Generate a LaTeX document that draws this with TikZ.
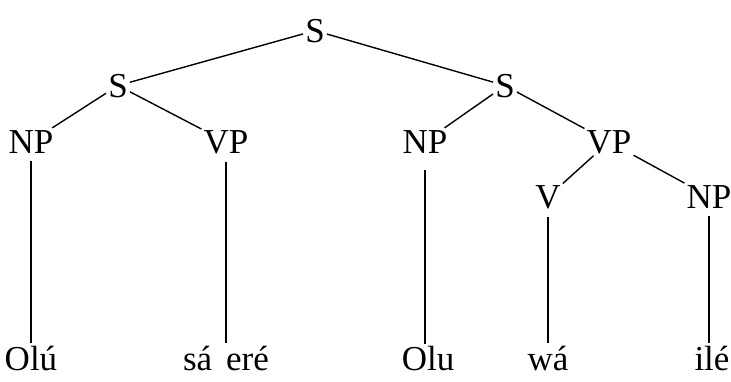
\documentclass[tikz,border=0pt]{standalone}
\usepackage{fontspec}
\setmainfont{Liberation Serif}
\begin{document}
\begin{tikzpicture}[x=1pt,y=-1pt,
  lab/.style={font=\fontsize{35}{40}\selectfont, inner sep=2pt, anchor=base},
  edge/.style={line width=1.4pt}]
\useasboundingbox (0,0) rectangle (731,381);
% labels
\node[lab] (s0)  at (315,42)  {S};
\node[lab] (s1)  at (118,97)  {S};
\node[lab] (s2)  at (505,97)  {S};
\node[lab] (np1) at (31,153)  {NP};
\node[lab] (vp1) at (226,153) {VP};
\node[lab] (np2) at (425,153) {NP};
\node[lab] (vp2) at (609,153) {VP};
\node[lab] (v)   at (548,208) {V};
\node[lab] (np3) at (709,208) {NP};
% words
\node[lab] (w1) at (31,370)  {Olú};
\node[lab] (w2) at (226,370) {sá\hspace{0.4em}eré};
\node[lab] (w3) at (428,370) {Olu};
\node[lab] (w4) at (548,370) {wá};
\node[lab] (w5) at (712,370) {ilé};
% edges
\draw[edge] (s0) -- (s1);
\draw[edge] (s0) -- (s2);
\draw[edge] (s1) -- (np1);
\draw[edge] (s1) -- (vp1);
\draw[edge] (s2) -- (np2);
\draw[edge] (s2) -- (vp2);
\draw[edge] (vp2) -- (v);
\draw[edge] (vp2) -- (np3);
\draw[edge] (np1.south) ++(0,6) coordinate (a1) -- (a1 |- w1.north);
\draw[edge] (vp1.south) ++(0,6) coordinate (a2) -- (a2 |- w2.north);
\draw[edge] (np2.south) ++(0,15) coordinate (a3) -- (a3 |- w3.north);
\draw[edge] (v.south) ++(0,6) coordinate (a4) -- (a4 |- w4.north);
\draw[edge] (np3.south) ++(0,6) coordinate (a5) -- (a5 |- w5.north);
\end{tikzpicture}
\end{document}
